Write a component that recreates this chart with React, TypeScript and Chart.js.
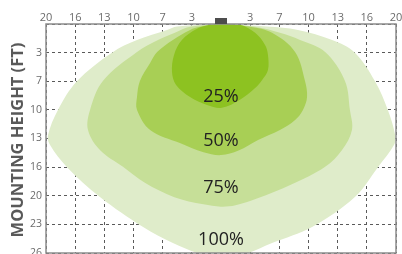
import { useEffect, useRef } from 'react';
import { Chart, registerables } from 'chart.js';

Chart.register(...registerables);

// Tick labels (grid is uniform; labels are the distances in feet)
const xTickLabels = ['20', '16', '13', '10', '7', '3', '', '3', '7', '10', '13', '16', '20'];
const yTickLabels = ['', '3', '7', '10', '13', '16', '20', '23', '26'];
const yTitle = 'MOUNTING HEIGHT (FT)';

// Coverage zones: [x grid units from centre, y grid units from top]
const zone25: [number, number][] = [
  [0, 0], [0.65, 0.03], [1.17, 0.31], [1.51, 0.73], [1.61, 1.08], [1.61, 1.61], [1.41, 1.96],
  [1.17, 2.24], [0.65, 2.65], [0.03, 2.93], [-0.48, 2.83], [-1.06, 2.55], [-1.54, 2.13],
  [-1.68, 1.68], [-1.61, 1.08], [-1.34, 0.56], [-0.82, 0.17], [-0.38, 0.03], [0, 0],
];
const zone50: [number, number][] = [
  [0, 0], [0.99, 0.1], [1.75, 0.31], [2.54, 0.98], [2.88, 1.99], [2.95, 2.55], [2.81, 3.0],
  [2.54, 3.35], [2.02, 3.7], [1.27, 4.05], [0.6, 4.42], [0, 4.58], [-0.6, 4.48], [-1.41, 4.16],
  [-2.43, 3.7], [-2.88, 3.0], [-2.88, 2.55], [-2.78, 1.99], [-2.43, 1.36], [-2.19, 0.98],
  [-1.65, 0.56], [-1.06, 0.21], [-0.72, 0.1], [0, 0],
];
const zone75: [number, number][] = [
  [0, 0], [1.17, 0.1], [2.02, 0.31], [2.71, 0.56], [3.57, 0.98], [4.25, 1.99], [4.42, 3.0],
  [4.49, 3.7], [4.15, 4.4], [3.57, 4.99], [2.43, 5.6], [1.23, 6.1], [0.5, 6.33], [0, 6.38],
  [-0.6, 6.3], [-1.6, 6.05], [-2.61, 5.55], [-3.36, 4.99], [-4.15, 4.4], [-4.56, 3.7],
  [-4.49, 3.0], [-4.05, 1.99], [-2.88, 0.98], [-2.16, 0.56], [-1.58, 0.31], [-1.06, 0.1], [0, 0],
];
const zone100: [number, number][] = [
  [0, 0], [1.58, 0.09], [2.64, 0.21], [3.81, 0.56], [4.59, 1.0], [5.28, 2.0], [5.72, 3.0],
  [5.97, 3.88], [5.93, 4.23], [5.38, 5.0], [4.59, 6.04], [3.12, 7.09], [1.75, 7.65], [0.93, 8.0],
  [0, 8.25], [-0.82, 8.0], [-1.65, 7.65], [-2.67, 7.09], [-4.15, 6.04], [-5.28, 5.0],
  [-5.86, 4.23], [-5.93, 3.88], [-5.59, 3.0], [-4.94, 2.0], [-3.74, 1.0], [-2.88, 0.56],
  [-1.85, 0.21], [-1.51, 0.09], [0, 0],
];

const zoneLabels = ['25%', '50%', '75%', '100%'];
const zoneLabelX = [0, 0, 0, 0];
const zoneLabelY = [2.55, 4.09, 5.71, 7.55];
const zoneColors = ['#8dc221', '#a8cf55', '#c6df98', '#dfecca'];
const zones = [zone25, zone50, zone75, zone100];

const FONT = '"Open Sans", "Liberation Sans", sans-serif';

export default function App() {
  const ref = useRef<HTMLCanvasElement>(null);

  useEffect(() => {
    if (!ref.current) return;
    const overlay = {
      id: 'overlay',
      afterDraw(chart: any) {
        const { ctx, chartArea: a, scales } = chart;
        const xs = scales.x;
        const ys = scales.y;
        ctx.save();
        ctx.setLineDash([]);
        ctx.strokeStyle = '#8c8c8c';
        ctx.lineWidth = 1.5;
        ctx.strokeRect(a.left, a.top, a.right - a.left, a.bottom - a.top);
        const cx = xs.getPixelForValue(0);
        ctx.fillStyle = '#4d4d4d';
        ctx.fillRect(Math.round(cx) - 6, a.top - 6, 12, 6);
        ctx.fillStyle = '#222222';
        ctx.font = `18px ${FONT}`;
        ctx.textAlign = 'center';
        ctx.textBaseline = 'middle';
        zoneLabels.forEach((t, i) => {
          ctx.fillText(t, xs.getPixelForValue(zoneLabelX[i]), ys.getPixelForValue(zoneLabelY[i]));
        });
        // vertical axis title
        ctx.translate(18, (a.top + a.bottom) / 2 + 1.5);
        ctx.rotate(-Math.PI / 2);
        ctx.fillStyle = '#595959';
        ctx.font = `bold 16.5px ${FONT}`;
        ctx.fillText(yTitle, 0, 0);
        ctx.restore();
      },
    };

    const chart = new Chart(ref.current, {
      type: 'scatter',
      data: {
        datasets: zones.map((z, i) => ({
          label: zoneLabels[i],
          data: z.map(([x, y]) => ({ x, y })),
          showLine: true,
          fill: 'shape',
          backgroundColor: zoneColors[i],
          borderColor: 'rgba(0,0,0,0)',
          borderWidth: 0,
          pointRadius: 0,
          pointHoverRadius: 0,
          tension: 0.35,
          clip: 0,
        })),
      },
      options: {
        responsive: false,
        animation: false,
        events: [],
        layout: { padding: { left: 0, right: 6, top: 0, bottom: 1 } },
        plugins: { legend: { display: false }, tooltip: { enabled: false } },
        scales: {
          x: {
            type: 'linear',
            position: 'top',
            min: -6,
            max: 6,
            z: 1,
            afterFit: (s: any) => {
              s.height = 24;
              s.paddingLeft = 0;
              s.paddingRight = 0;
            },
            ticks: {
              stepSize: 1,
              autoSkip: false,
              maxRotation: 0,
              padding: 0,
              color: '#6b6b6b',
              font: { family: FONT, size: 11 },
              callback: (v: any) => xTickLabels[Math.round(v) + 6] ?? '',
            },
            grid: { color: '#5a5a5a', lineWidth: 1, drawTicks: false },
            border: { display: false, dash: [3, 3] },
          },
          y: {
            type: 'linear',
            reverse: true,
            min: 0,
            max: 8,
            z: 1,
            afterFit: (s: any) => {
              s.width = 46;
              s.paddingTop = 0;
              s.paddingBottom = 0;
            },
            ticks: {
              stepSize: 1,
              crossAlign: 'near',
              padding: 4,
              color: '#6b6b6b',
              font: { family: FONT, size: 10.5 },
              callback: (v: any) => yTickLabels[Math.round(v)] ?? '',
            },
            grid: { color: '#5a5a5a', lineWidth: 1, drawTicks: false },
            border: { display: false, dash: [3, 3] },
          },
        },
      },
      plugins: [overlay],
    } as any);
    return () => chart.destroy();
  }, []);

  return (
    <div style={{ position: 'fixed', left: 0, top: 0, width: 402, height: 254 }}>
      <canvas ref={ref} width={402} height={254} style={{ display: 'block', width: 402, height: 254 }} />
    </div>
  );
}
